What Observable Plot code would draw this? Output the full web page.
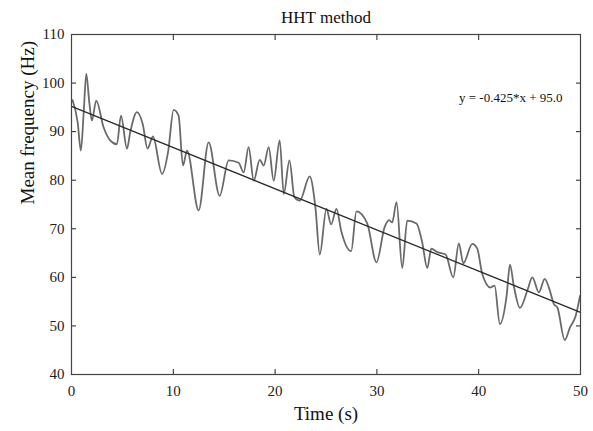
<!DOCTYPE html>
<html>
<head>
<meta charset="utf-8">
<script src="https://cdn.jsdelivr.net/npm/d3@7"></script>
<script src="https://cdn.jsdelivr.net/npm/@observablehq/plot@0.6"></script>
<style>
  html, body { margin: 0; padding: 0; background: #fff; }
  #chart svg { display: block; }
</style>
</head>
<body>
<div id="chart"></div>
<script>
const title = "HHT method";
const xLabel = "Time (s)";
const yLabel = "Mean frequency (Hz)";
const equation = "y = -0.425*x + 95.0";

const xTicks = [0, 10, 20, 30, 40, 50];
const yTicks = [40, 50, 60, 70, 80, 90, 100, 110];

const times = [0.1, 0.6, 0.92, 1.2, 1.45, 1.75, 2.0, 2.43, 3.15, 3.8, 4.46, 4.86, 5.45, 5.77, 6.43, 7.0, 7.47, 8.0, 8.89, 9.5,
  10.03, 10.52, 10.95, 11.35, 12.49, 13.47, 14.55, 15.44, 16.42, 16.91, 17.4, 17.9, 18.49, 18.88, 19.37, 19.86,
  20.45, 20.85, 21.41, 21.9, 22.42, 23.4, 23.96, 24.39, 25.04, 25.5, 26.03, 26.49, 27.47, 27.99, 29.05, 29.96,
  30.75, 31.2, 31.5, 31.93, 32.49, 32.98, 33.89, 34.45, 34.95, 35.34, 35.93, 36.75, 37.5, 38.05, 38.49, 39.37, 39.86,
  40.35, 41.17, 41.56, 42.08, 42.74, 43.07, 43.46, 44.05, 44.78, 45.27, 45.92, 46.48, 46.9, 47.39, 47.73, 48.45, 48.97, 49.53, 49.95];
const freqs = [96.5, 92.0, 86.1, 94.0, 101.9, 96.0, 92.3, 96.4, 90.9, 88.2, 87.4, 93.3, 86.5, 89.9, 94.0, 91.5, 86.5, 89.0, 81.3, 86.0,
  94.5, 93.3, 83.0, 86.1, 73.8, 87.8, 76.8, 84.1, 83.6, 81.6, 86.8, 79.9, 84.2, 83.0, 86.8, 79.9,
  88.2, 77.2, 84.1, 76.5, 75.8, 80.8, 74.4, 64.7, 74.1, 70.9, 74.1, 69.6, 65.4, 73.6, 71.1, 63.1,
  70.3, 71.8, 71.3, 75.5, 61.9, 71.7, 71.1, 67.2, 61.9, 65.9, 65.2, 64.7, 60.0, 67.0, 62.9, 66.9, 65.9,
  60.7, 57.9, 58.3, 50.4, 56.2, 62.6, 58.1, 53.7, 57.3, 60.0, 56.9, 59.7, 57.9, 54.5, 53.8, 47.1, 49.7, 52.1, 56.2];

const trendX = [0, 50];
const trendY = [95.2, 52.8];

const series = times.map((t, i) => ({t, f: freqs[i]}));
const trend = trendX.map((t, i) => ({t, f: trendY[i]}));

const chart = Plot.plot({
  width: 593,
  height: 431,
  marginLeft: 71,
  marginRight: 13,
  marginTop: 34,
  marginBottom: 57,
  style: {fontFamily: "'Liberation Serif', 'DejaVu Serif', serif", fontSize: "15px", background: "#fff", color: "#222"},
  x: {domain: [0, 50]},
  y: {domain: [40, 110]},
  marks: [
    Plot.axisX({anchor: "bottom", ticks: xTicks, tickSize: -5, tickPadding: 16, label: null, fontSize: 15}),
    Plot.axisX({anchor: "top", ticks: xTicks, tickSize: -5, tickFormat: () => "", label: null}),
    Plot.axisY({anchor: "left", ticks: yTicks, tickSize: -5, tickPadding: 12, label: null, fontSize: 15}),
    Plot.axisY({anchor: "right", ticks: yTicks, tickSize: -5, tickFormat: () => "", label: null}),
    Plot.line(series, {x: "t", y: "f", stroke: "#6a6a6a", strokeWidth: 1.8, curve: "monotone-x"}),
    Plot.line(trend, {x: "t", y: "f", stroke: "#2a2a2a", strokeWidth: 1.3}),
    Plot.frame({stroke: "#444", strokeWidth: 1.2}),
    Plot.text([title], {frameAnchor: "top", dy: -17, lineAnchor: "middle", fontSize: 17, fill: "#111"}),
    Plot.text([xLabel], {frameAnchor: "bottom", dy: 39, lineAnchor: "middle", fontSize: 19, fill: "#111"}),
    Plot.text([yLabel], {frameAnchor: "left", dx: -44, rotate: -90, lineAnchor: "middle", fontSize: 19, fill: "#111"}),
    Plot.text([equation], {frameAnchor: "top-right", dx: -18, dy: 63, lineAnchor: "middle", textAnchor: "end", fontSize: 13, fill: "#111"})
  ]
});
document.getElementById("chart").appendChild(chart);
</script>
</body>
</html>
